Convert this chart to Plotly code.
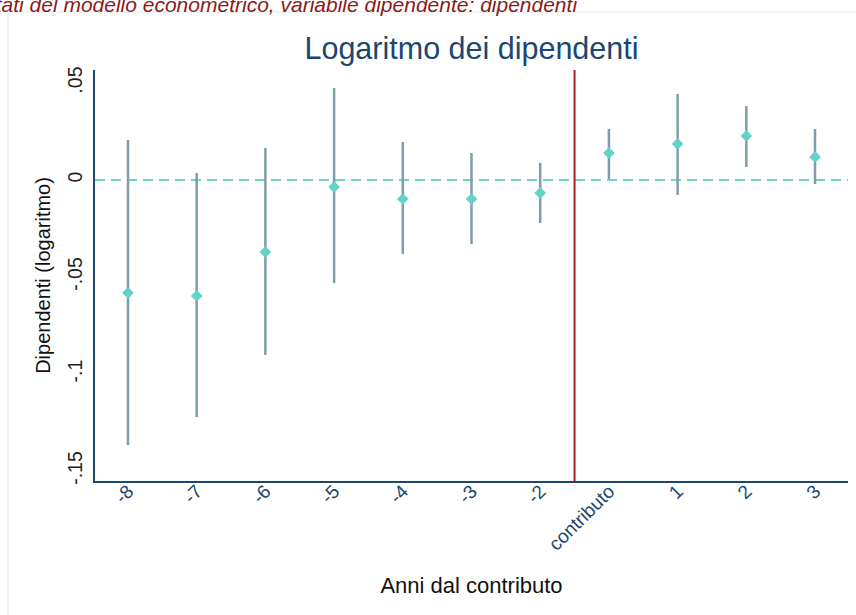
import plotly.graph_objects as go

# Data
categories = ["-8", "-7", "-6", "-5", "-4", "-3", "-2", "contributo", "1", "2", "3"]
coef = [-0.0582, -0.0598, -0.0371, -0.0036, -0.0098, -0.0098, -0.0067, 0.0139, 0.0186, 0.0227, 0.0119]
ci_low = [-0.1366, -0.1222, -0.0902, -0.0531, -0.0381, -0.0330, -0.0222, 0.0005, -0.0077, 0.0067, -0.0021]
ci_high = [0.0206, 0.0036, 0.0165, 0.0474, 0.0196, 0.0139, 0.0088, 0.0263, 0.0443, 0.0381, 0.0263]
y_tickvals = [-0.15, -0.1, -0.05, 0, 0.05]
y_ticktext = ["-.15", "-.1", "-.05", "0", ".05"]
event_position = 6.5  # between "-2" and "contributo"

err_plus = [h - c for h, c in zip(ci_high, coef)]
err_minus = [c - l for c, l in zip(coef, ci_low)]

navy = "#1a476f"
font_family = "Liberation Sans, Arial, sans-serif"

fig = go.Figure()
fig.add_trace(go.Scatter(
    x=categories, y=coef, mode="markers",
    marker=dict(symbol="diamond", size=9, color="#63d2c8"),
    error_y=dict(type="data", symmetric=False, array=err_plus, arrayminus=err_minus,
                 width=0, thickness=2.5, color="#7f9da6"),
    showlegend=False, hoverinfo="skip",
))

fig.update_layout(
    width=856, height=615,
    margin=dict(l=95, r=8, t=70, b=134, autoexpand=False),
    paper_bgcolor="white", plot_bgcolor="white",
    font=dict(family=font_family, color="#222222"),
    title=dict(text="Logaritmo dei dipendenti", x=0.5, xref="paper", xanchor="center",
               y=1 - 48 / 615, yref="container", yanchor="middle",
               font=dict(size=30.5, color=navy, family=font_family)),
    xaxis=dict(
        type="category", range=[-0.48, 10.48], automargin=False,
        showline=True, linecolor=navy, linewidth=1.5, mirror=False,
        showgrid=False, zeroline=False,
        ticks="", tickangle=-45, tickfont=dict(size=19, color=navy),
        ticklabelstandoff=-10,
        title=dict(text="Anni dal contributo", font=dict(size=22, color="#111111"), standoff=24),
    ),
    yaxis=dict(
        range=[-0.1552, 0.0567], automargin=False,
        tickvals=y_tickvals, ticktext=y_ticktext, tickangle=-90,
        showline=True, linecolor=navy, linewidth=1.5,
        showgrid=False, zeroline=False,
        ticks="outside", ticklen=3, tickcolor="white",
        tickfont=dict(size=19.5, color="#222222"),
        title=dict(text="Dipendenti (logaritmo)", font=dict(size=20, color="#111111"), standoff=8),
    ),
)

# zero reference line (dashed)
fig.add_shape(type="line", xref="paper", yref="y", x0=0, x1=1, y0=0, y1=0,
              line=dict(color="#6dd3cb", width=2, dash="10px,6px"), layer="below")
# event line
fig.add_shape(type="line", xref="x", yref="paper", x0=event_position, x1=event_position, y0=0, y1=1,
              line=dict(color="#a8201f", width=2))
# faint outer panel frame
fig.add_shape(type="rect", xref="paper", yref="paper",
              x0=(8 - 95) / 753, x1=1.2, y0=-0.5, y1=(481 - 12) / 411,
              line=dict(color="#e3e8ec", width=1), fillcolor="rgba(0,0,0,0)", layer="below")

# cut-off subtitle at top
fig.add_annotation(text="<i>Risultati del modello econometrico, variabile dipendente: dipendenti</i>",
                   xref="paper", yref="paper", x=(580 - 95) / 753, y=1,
                   xanchor="right", yanchor="middle", yshift=66, showarrow=False,
                   font=dict(size=21, color="#8b1a1a", family=font_family))

fig.write_html("out.html", config={"displayModeBar": False},
               post_script="document.body.style.margin='0';")
